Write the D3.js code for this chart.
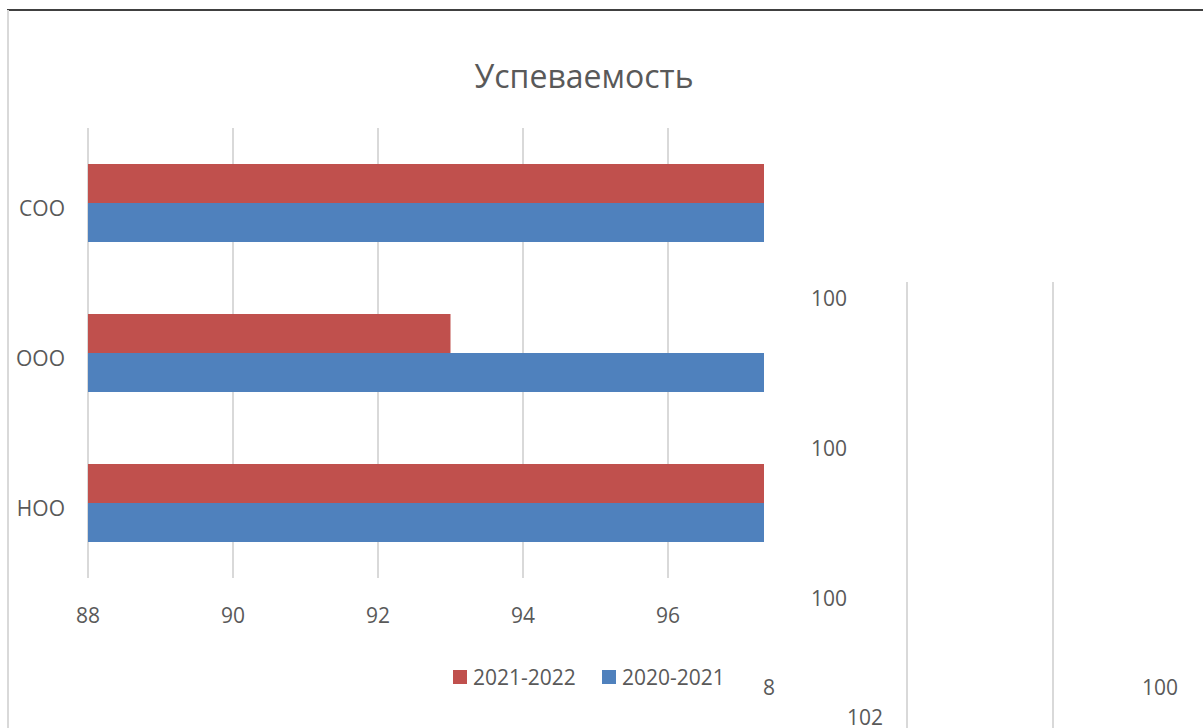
<!DOCTYPE html>
<html>
<head>
<meta charset="utf-8">
<script src="https://cdn.jsdelivr.net/npm/d3@7"></script>
<style>
  body { margin: 0; background: #fff; }
  text { font-family: "Open Sans", sans-serif; fill: #595959; }
</style>
</head>
<body>
<div id="chart"></div>
<script>
// data
const categories = ["СОО", "ООО", "НОО"]
const seriesNames = ["2021-2022", "2020-2021"]
const values2021_2022 = [100, 93, 100]
const values2020_2021 = [100, 100, 100]
const xTicks = [88, 90, 92, 94, 96]
const colors = ["#c0504d", "#4f81bd"]

const svgWidth = 1203
const svgHeight = 728

const svg = d3.select("#chart")
    .append("svg")
    .attr("width", svgWidth)
    .attr("height", svgHeight)

// frame lines
svg.append("line")
    .attr("x1", 7).attr("x2", svgWidth)
    .attr("y1", 10).attr("y2", 10)
    .attr("stroke", "#000").attr("stroke-width", 1.5)
svg.append("line")
    .attr("x1", 8).attr("x2", 8)
    .attr("y1", 10).attr("y2", svgHeight)
    .attr("stroke", "#d9d9d9").attr("stroke-width", 2)

// title
svg.append("text")
    .attr("x", 584)
    .attr("y", 88)
    .attr("text-anchor", "middle")
    .style("font-size", "32px")
    .text("Успеваемость")

// scales
const plotTop = 128
const plotBottom = 578
const plotRight = 764

const x = d3.scaleLinear()
    .domain([88, 100])
    .range([88, 958])

const y = d3.scaleBand()
    .domain(categories)
    .range([plotTop, plotBottom])
    .paddingInner(0.48)
    .paddingOuter(0.24)

const ySub = d3.scaleBand()
    .domain(seriesNames)
    .range([0, y.bandwidth()])

const color = d3.scaleOrdinal()
    .domain(seriesNames)
    .range(colors)

// gridlines
svg.append("g")
    .selectAll("line")
    .data(xTicks)
    .join("line")
    .attr("x1", d => x(d)).attr("x2", d => x(d))
    .attr("y1", plotTop).attr("y2", plotBottom)
    .attr("stroke", "#d9d9d9").attr("stroke-width", 2)

svg.append("g")
    .selectAll("text")
    .data(xTicks)
    .join("text")
    .attr("x", d => x(d))
    .attr("y", 623)
    .attr("text-anchor", "middle")
    .style("font-size", "21px")
    .text(d => d)

// category labels
svg.append("g")
    .selectAll("text")
    .data(categories)
    .join("text")
    .attr("x", 65)
    .attr("y", d => y(d) + y.bandwidth() / 2 + 13)
    .attr("text-anchor", "end")
    .style("font-size", "21px")
    .text(d => d)

// bars, clipped to the plot area
svg.append("clipPath")
    .attr("id", "plot-clip")
    .append("rect")
    .attr("x", 88).attr("y", plotTop)
    .attr("width", plotRight - 88).attr("height", plotBottom - plotTop)

const rows = categories.map((c, i) => [
    { cat: c, series: seriesNames[0], value: values2021_2022[i] },
    { cat: c, series: seriesNames[1], value: values2020_2021[i] }
]).flat()

svg.append("g")
    .attr("clip-path", "url(#plot-clip)")
    .selectAll("rect")
    .data(rows)
    .join("rect")
    .attr("x", x(88))
    .attr("y", d => y(d.cat) + ySub(d.series))
    .attr("width", d => x(d.value) - x(88))
    .attr("height", ySub.bandwidth())
    .attr("fill", d => color(d.series))

// stray data labels (broken render)
svg.append("g")
    .selectAll("text")
    .data(categories.map((c, i) => ({ cat: c, value: values2020_2021[i] })))
    .join("text")
    .attr("x", 829)
    .attr("y", d => y(d.cat) + y.bandwidth() / 2 + 103)
    .attr("text-anchor", "middle")
    .style("font-size", "21px")
    .text(d => d.value)

// ghost second axis
const ghostX = d3.scaleLinear()
    .domain([100, 102])
    .range([907, 1053])

svg.append("g")
    .selectAll("line")
    .data([100, 102])
    .join("line")
    .attr("x1", d => ghostX(d)).attr("x2", d => ghostX(d))
    .attr("y1", 282).attr("y2", svgHeight)
    .attr("stroke", "#d9d9d9").attr("stroke-width", 2)

svg.append("text")
    .attr("x", 769).attr("y", 695)
    .attr("text-anchor", "middle")
    .style("font-size", "21px")
    .text("8")
svg.append("text")
    .attr("x", 865).attr("y", 725)
    .attr("text-anchor", "middle")
    .style("font-size", "21px")
    .text("102")
svg.append("text")
    .attr("x", 1160).attr("y", 695)
    .attr("text-anchor", "middle")
    .style("font-size", "21px")
    .text("100")

// legend
const legend = svg.append("g")
    .selectAll("g")
    .data(seriesNames)
    .join("g")
    .attr("transform", (d, i) => `translate(${453 + i * 149},670)`)

legend.append("rect")
    .attr("width", 14).attr("height", 14)
    .attr("fill", d => color(d))

legend.append("text")
    .attr("x", 20).attr("y", 15)
    .style("font-size", "21px")
    .text(d => d)
</script>
</body>
</html>
